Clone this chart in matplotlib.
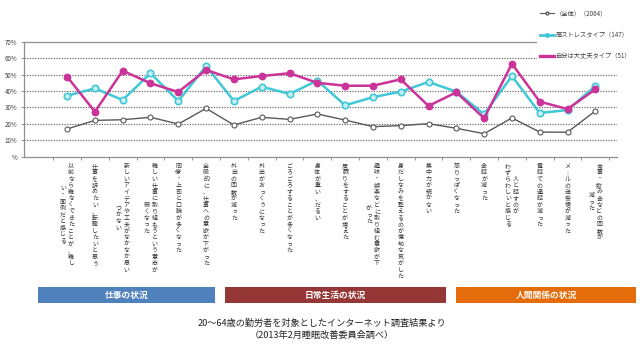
import matplotlib
matplotlib.use('Agg')
import matplotlib.pyplot as plt
from matplotlib.patches import Rectangle
from matplotlib.lines import Line2D
import numpy as np

plt.rcParams['font.family'] = ['Noto Sans CJK JP', 'DejaVu Sans']

# category labels (each entry = list of vertical columns, right to left)
categories = [
    ['以前なら難なくできたことが、難し', 'い・面倒だと感じる'],
    ['仕事を辞めたい、転職したいと思う'],
    ['新しいアイデアや工夫がなかなか思い', 'つかない'],
    ['難しい仕事に取り組もうという意志が', '弱くなった'],
    ['同僚・上司と口論が多くなった'],
    ['全般的に、仕事への意欲が下がった'],
    ['外出の回数が減った'],
    ['外出がおっくうになった'],
    ['ごろごろすることが多くなった'],
    ['身体が重い、だるい'],
    ['居眠りをすることが増えた'],
    ['趣味・娯楽などに取り組む意欲が下', 'がった'],
    ['身だしなみを整えるのが億劫な気がした'],
    ['集中力が続かない'],
    ['怒りっぽくなった'],
    ['会話が減った'],
    ['人と話すのが', 'わずらわしいと感じる'],
    ['電話での通話が減った'],
    ['メールの送受信が減った'],
    ['食事・飲み会などの回数が', '減った'],
]

overall = [16.9, 22.1, 22.5, 24.0, 19.9, 29.4, 19.3, 24.0, 22.7, 26.0,
           22.3, 18.3, 18.9, 20.1, 17.3, 14.0, 23.6, 15.0, 14.9, 27.8]
high_stress = [37.1, 41.6, 34.5, 50.8, 33.9, 55.2, 33.9, 42.6, 38.2, 46.3,
               31.3, 36.2, 39.6, 45.5, 39.6, 25.8, 49.1, 26.6, 28.4, 43.0]
im_fine = [48.7, 27.4, 52.3, 44.7, 39.4, 52.8, 47.1, 49.1, 50.8, 45.0,
           43.2, 43.2, 47.1, 30.9, 39.2, 23.4, 56.6, 33.5, 29.0, 41.0]

series_names = ['（全体）（2064）', '高ストレスタイプ（147）', '自分は大丈夫タイプ（51）']
yticks = [0, 10, 20, 30, 40, 50, 60, 70]
ytick_labels = ['%', '10%', '20%', '30%', '40%', '50%', '60%', '70%']

groups = ['仕事の状況', '日常生活の状況', '人間関係の状況']
group_colors = ['#4F81BD', '#953735', '#E46C0A']
group_spans = [(38, 215), (225, 446), (456, 636)]   # pixel extents

W, H = 640, 348
fig = plt.figure(figsize=(W / 100, H / 100), dpi=100)
ax = fig.add_axes([24 / W, 1 - 156.7 / H, (617 - 24) / W, 115 / H])

x = np.arange(len(categories))
grey = '#595959'
cyan = '#40C8D6'
mag = '#CC3399'

ax.plot(x, overall, color=grey, lw=1.0, marker='o', ms=3.6,
        mfc='white', mec=grey, mew=0.8, zorder=3)
ax.plot(x, high_stress, color=cyan, lw=1.8, marker='o', ms=4.6,
        mfc='#C8F0F4', mec=cyan, mew=1.2, zorder=4)
ax.plot(x, im_fine, color=mag, lw=1.8, marker='o', ms=4.6,
        mfc=mag, mec=mag, zorder=5)

ax.set_xlim(-1.55, 19.78)
ax.set_ylim(0, 70)
ax.set_yticks(yticks)
ax.set_yticklabels(ytick_labels, fontsize=4.5, color='#404040')
for yv in yticks[1:-1]:
    ax.axhline(yv, color='#505050', lw=0.8, ls=(0, (1, 1.4)), zorder=1)
ax.set_xticks(np.arange(-0.5, 20, 1))
ax.set_xticklabels([])
ax.tick_params(axis='x', length=2, width=0.6, color='#808080', direction='out')
ax.tick_params(axis='y', length=2, width=0.6, color='#808080', pad=3)
for s in ['left', 'bottom', 'top']:
    ax.spines[s].set_color('#909090')
    ax.spines[s].set_linewidth(0.9)
ax.spines['right'].set_visible(False)

# vertical category labels, characters stacked upright
trans = ax.get_xaxis_transform()
pitch = 6.5
col_sep = 8 / 27.8
vert_map = {'ー': '｜'}
for i, cols in enumerate(categories):
    lmax = max(len(c) for c in cols)
    n = len(cols)
    for c, col in enumerate(cols):
        xc = i + ((n - 1) / 2 - c) * col_sep
        start = (lmax - len(col)) / 2
        for j, ch in enumerate(col):
            ypx = 163 - 156.7 + (start + j + 0.5) * pitch
            ax.text(xc, -ypx / 115, vert_map.get(ch, ch), transform=trans,
                    ha='center', va='center', fontsize=4.3, color='#333333')

# white area behind the legend
fig.add_artist(Rectangle((537 / W, 1 - 64 / H), (W - 537) / W, 64 / H,
                         transform=fig.transFigure, facecolor='white',
                         edgecolor='none', zorder=4))
handles = [
    Line2D([], [], color=grey, lw=0.8, marker='o', ms=2, mfc='white', mec=grey),
    Line2D([], [], color=cyan, lw=2.0, marker='o', ms=2.5, mfc=cyan, mec=cyan),
    Line2D([], [], color=mag, lw=2.4),
]
leg = fig.legend(handles, series_names, loc='upper left',
                 bbox_to_anchor=(540 / W, 1 - 9 / H), frameon=False,
                 fontsize=4.5, handlelength=2.2, handletextpad=0.3,
                 labelspacing=2.2, borderaxespad=0, borderpad=0)
for t in leg.get_texts():
    t.set_color('#404040')

# group bars
for name, col, (x0, x1) in zip(groups, group_colors, group_spans):
    fig.add_artist(Rectangle((x0 / W, 1 - 303 / H), (x1 - x0) / W, 16 / H,
                             transform=fig.transFigure, facecolor=col,
                             edgecolor='none'))
    fig.text((x0 + x1) / 2 / W, 1 - 295 / H, name, ha='center', va='center',
             fontsize=6.3, color='white', fontweight='bold')

fig.text(322 / W, 1 - 323 / H, '20～64歳の勤労者を対象としたインターネット調査結果より',
         ha='center', va='center', fontsize=6.6, color='#222222')
fig.text(322 / W, 1 - 335 / H, '（2013年2月睡眠改善委員会調べ）',
         ha='center', va='center', fontsize=6.6, color='#222222')

fig.savefig('out.png', dpi=100, facecolor='white')
